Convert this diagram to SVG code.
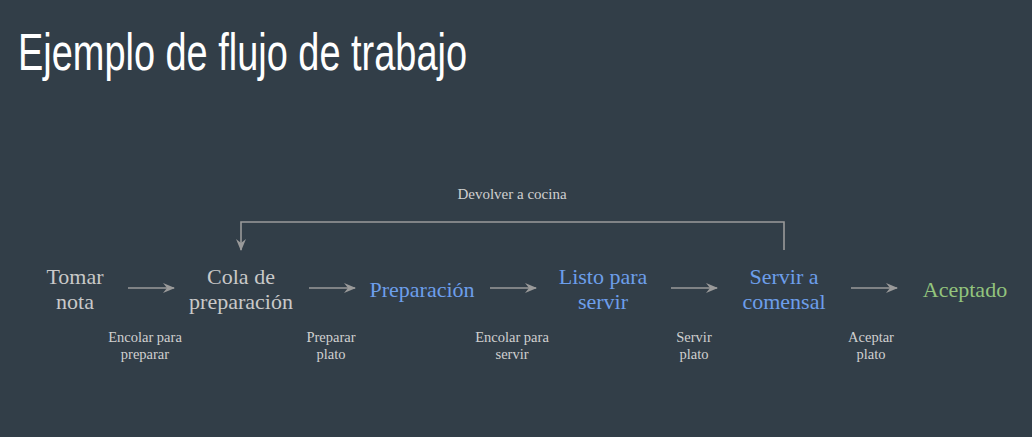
<svg xmlns="http://www.w3.org/2000/svg" width="1032" height="437" viewBox="0 0 1032 437">
<style>
.title{font-family:"Liberation Sans","DejaVu Sans",sans-serif;font-size:52px;fill:#ffffff}
.node{font-family:"Liberation Serif","DejaVu Serif",serif;font-size:22px;text-anchor:middle}
.gray{fill:#c9c9c9}
.blue{fill:#6d9eeb}
.green{fill:#93c47d}
.lbl{font-family:"Liberation Serif",serif;font-size:14.5px;fill:#d0d0d0;text-anchor:middle}
.edge{stroke:#9a9a9a;stroke-width:1.6;fill:none}
</style>
<defs>
<marker id="ah" viewBox="0 0 12 10" refX="11" refY="5" markerWidth="12" markerHeight="10" markerUnits="userSpaceOnUse" orient="auto">
<path d="M0,0 L12,5 L0,10 L4,5 Z" fill="#9a9a9a"/>
</marker>
</defs>
<rect width="1032" height="437" fill="#323e48"/>
<text x="18" y="70" class="title" textLength="449" lengthAdjust="spacingAndGlyphs">Ejemplo de flujo de trabajo</text>
<g id="connectors">
<line class="edge" x1="128" y1="288" x2="174" y2="288" marker-end="url(#ah)"/>
<line class="edge" x1="309" y1="288" x2="355" y2="288" marker-end="url(#ah)"/>
<line class="edge" x1="490" y1="288" x2="536" y2="288" marker-end="url(#ah)"/>
<line class="edge" x1="671" y1="288" x2="717" y2="288" marker-end="url(#ah)"/>
<line class="edge" x1="851" y1="288" x2="897" y2="288" marker-end="url(#ah)"/>
<path class="edge" d="M784,250 V222 H241 V250" marker-end="url(#ah)"/>
<text x="512" y="199" class="lbl" style="font-size:15px">Devolver a cocina</text>
<text class="lbl" x="145" y="342">Encolar para</text>
<text class="lbl" x="145" y="359">preparar</text>
<text class="lbl" x="331" y="342">Preparar</text>
<text class="lbl" x="331" y="359">plato</text>
<text class="lbl" x="512" y="342">Encolar para</text>
<text class="lbl" x="512" y="359">servir</text>
<text class="lbl" x="694" y="342">Servir</text>
<text class="lbl" x="694" y="359">plato</text>
<text class="lbl" x="871" y="342">Aceptar</text>
<text class="lbl" x="871" y="359">plato</text>
</g>
<g id="n1"><text class="node gray" x="75" y="284">Tomar</text><text class="node gray" x="75" y="309">nota</text></g>
<g id="n2"><text class="node gray" x="241" y="284">Cola de</text><text class="node gray" x="241" y="309">preparación</text></g>
<g id="n3"><text class="node blue" x="422" y="297">Preparación</text></g>
<g id="n4"><text class="node blue" x="603" y="284">Listo para</text><text class="node blue" x="603" y="309">servir</text></g>
<g id="n5"><text class="node blue" x="784" y="284">Servir a</text><text class="node blue" x="784" y="309">comensal</text></g>
<g id="n6"><text class="node green" x="965" y="297">Aceptado</text></g>
</svg>
